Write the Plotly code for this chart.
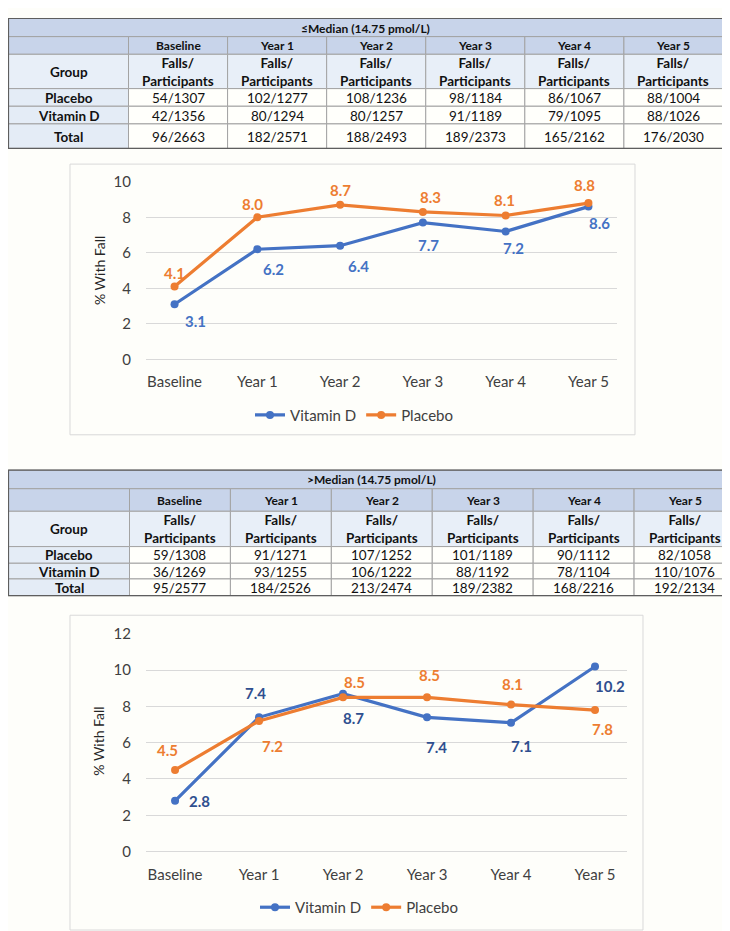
import plotly.graph_objects as go

W, H = 730, 931

# ---------------- data ----------------
categories = ["Baseline", "Year 1", "Year 2", "Year 3", "Year 4", "Year 5"]
row_groups = ["Placebo", "Vitamin D", "Total"]
group_header = "Group"
sub_header = "Falls/<br>Participants"

t1_title = "≤Median (14.75 pmol/L)"
t1_placebo = ["54/1307", "102/1277", "108/1236", "98/1184", "86/1067", "88/1004"]
t1_vitd = ["42/1356", "80/1294", "80/1257", "91/1189", "79/1095", "88/1026"]
t1_total = ["96/2663", "182/2571", "188/2493", "189/2373", "165/2162", "176/2030"]

t2_title = ">Median (14.75 pmol/L)"
t2_placebo = ["59/1308", "91/1271", "107/1252", "101/1189", "90/1112", "82/1058"]
t2_vitd = ["36/1269", "93/1255", "106/1222", "88/1192", "78/1104", "110/1076"]
t2_total = ["95/2577", "184/2526", "213/2474", "189/2382", "168/2216", "192/2134"]

c1_vitd = [3.1, 6.2, 6.4, 7.7, 7.2, 8.6]
c1_placebo = [4.1, 8.0, 8.7, 8.3, 8.1, 8.8]
c2_vitd = [2.8, 7.4, 8.7, 7.4, 7.1, 10.2]
c2_placebo = [4.5, 7.2, 8.5, 8.5, 8.1, 7.8]

# ---------------- style ----------------
FONT = "Lato"
LAV = "#C8D4EA"
LB = "#E8EFF8"
LB2 = "#E4ECF6"
CREAM = "#FFFFFB"
INNER = "#A3A3A3"
OUTER = "#5E5E5E"
TXT = "#111111"
BLUE = "#4472C4"
ORANGE = "#ED7D31"
GRID = "#D9D9D9"
BG = "#FEFEFA"

# label offsets (px): dx, dy (dy positive = downward)
c1_vitd_off = [(21, 17), (16, 20), (18, 20), (6, 22), (8, 17), (11, 16)]
c1_plac_off = [(0, -14), (-5, -13), (0, -15), (8, -15), (-1, -16), (-4, -18)]
c2_vitd_off = [(24, 0), (-4, -24), (10, 24), (9, 30), (10, 23), (15, 19)]
c2_plac_off = [(-8, -20), (13, 25), (11, -15), (2, -22), (1, -21), (7, 19)]


def px(x):
    return x / W


def py(y):
    return 1 - y / H


fig = go.Figure()


def cell(x0, x1, y0, y1, fill, text=None, size=13.5, bold=False):
    fig.add_shape(type="rect", xref="paper", yref="paper",
                  x0=px(x0), x1=px(x1), y0=py(y1), y1=py(y0),
                  fillcolor=fill, line=dict(color=INNER, width=1), layer="below")
    if text:
        t = f"<b>{text}</b>" if bold else text
        fig.add_annotation(xref="paper", yref="paper", x=px((x0 + x1) / 2),
                           y=py((y0 + y1) / 2 + 0.5), text=t, showarrow=False,
                           xanchor="center", yanchor="middle", align="center",
                           font=dict(family=FONT, size=size, color=TXT))


def add_table(title, placebo, vitd, total, left, right, first_w, row_edges):
    ncol = len(categories)
    col_w = (right - left - first_w) / ncol
    xe = [left, left + first_w] + [left + first_w + col_w * (i + 1) for i in range(ncol)]
    r = row_edges
    # title row
    cell(left, right, r[0], r[1], LAV, title, size=12, bold=True)
    # header rows
    cell(xe[0], xe[1], r[1], r[2], LAV)
    cell(xe[0], xe[1], r[2], r[3], LB, group_header, size=13.5, bold=True)
    for i, c in enumerate(categories):
        cell(xe[i + 1], xe[i + 2], r[1], r[2], LAV, c, size=12, bold=True)
        cell(xe[i + 1], xe[i + 2], r[2], r[3], LB, sub_header, size=13.5, bold=True)
    # body
    rows = [placebo, vitd, total]
    for j, (g, vals) in enumerate(zip(row_groups, rows)):
        cell(xe[0], xe[1], r[3 + j], r[4 + j], LB2, g, size=13.5, bold=True)
        for i, v in enumerate(vals):
            cell(xe[i + 1], xe[i + 2], r[3 + j], r[4 + j], CREAM, v, size=13.5)
    # outer border
    fig.add_shape(type="rect", xref="paper", yref="paper",
                  x0=px(left), x1=px(right), y0=py(r[-1]), y1=py(r[0]),
                  line=dict(color=OUTER, width=1.2), layer="below")


add_table(t1_title, t1_placebo, t1_vitd, t1_total, 0.5, 715, 120,
          [0.5, 19, 37, 72, 90, 108, 133])
add_table(t2_title, t2_placebo, t2_vitd, t2_total, 0.5, 727, 121,
          [461, 480, 503, 539, 556, 572, 589])


def add_chart(vitd, placebo, n, legend, vitd_lab_color, vitd_off, plac_off):
    xa = "x" if n == 1 else f"x{n}"
    ya = "y" if n == 1 else f"y{n}"
    for name, vals, color, lab_color, off in [
            ("Vitamin D", vitd, BLUE, vitd_lab_color, vitd_off),
            ("Placebo", placebo, ORANGE, ORANGE, plac_off)]:
        fig.add_trace(go.Scatter(
            x=categories, y=vals, mode="lines+markers", name=name,
            line=dict(color=color, width=3.2), marker=dict(color=color, size=8),
            xaxis=xa, yaxis=ya, legend=legend, hoverinfo="skip"))
        for c, v, (dx, dy) in zip(categories, vals, off):
            fig.add_annotation(x=c, y=v, xref=xa, yref=ya, text=f"<b>{v:.1f}</b>",
                               showarrow=False, xshift=dx, yshift=-dy,
                               font=dict(family=FONT, size=15, color=lab_color))


add_chart(c1_vitd, c1_placebo, 1, "legend", BLUE, c1_vitd_off, c1_plac_off)
add_chart(c2_vitd, c2_placebo, 2, "legend2", "#2F4F8F", c2_vitd_off, c2_plac_off)

axis_font = dict(family=FONT, size=15, color="#404040")
xcommon = dict(showgrid=False, showline=False, zeroline=False, ticks="",
               tickfont=axis_font, ticklabelstandoff=12, fixedrange=True)
ycommon = dict(showgrid=True, gridcolor=GRID, gridwidth=1, zeroline=True,
               zerolinecolor=GRID, zerolinewidth=1, showline=False, ticks="",
               dtick=2, tickfont=axis_font, ticklabelstandoff=14, fixedrange=True)

fig.update_layout(
    width=W, height=H, margin=dict(l=0, r=0, t=0, b=0),
    paper_bgcolor=BG, plot_bgcolor=BG, showlegend=True,
    xaxis=dict(domain=[px(138), px(609)], anchor="y", **xcommon),
    yaxis=dict(domain=[py(348), py(167)], anchor="x", range=[0, 10], **ycommon),
    xaxis2=dict(domain=[px(138), px(619)], anchor="y2", **xcommon),
    yaxis2=dict(domain=[py(850), py(628)], anchor="x2", range=[0, 12], **ycommon),
    legend=dict(orientation="h", x=px(346), xanchor="center", y=py(405),
                yanchor="middle", font=dict(family=FONT, size=15, color="#404040"),
                bgcolor="rgba(0,0,0,0)"),
    legend2=dict(orientation="h", x=px(351), xanchor="center", y=py(907),
                 yanchor="middle", font=dict(family=FONT, size=15, color="#404040"),
                 bgcolor="rgba(0,0,0,0)"),
)

# chart frames
for left, right, top, bottom in [(62, 627, 149, 425), (62, 635, 609, 930)]:
    fig.add_shape(type="rect", xref="paper", yref="paper", x0=px(left), x1=px(right),
                  y0=py(bottom), y1=py(top), line=dict(color=GRID, width=1),
                  layer="below")

# y-axis titles
for yc in [258, 738]:
    fig.add_annotation(xref="paper", yref="paper", x=px(91), y=py(yc),
                       text="% With Fall", textangle=-90, showarrow=False,
                       xanchor="center", yanchor="middle",
                       font=dict(family=FONT, size=14, color="#262626"))

fig.write_html("out.html")
